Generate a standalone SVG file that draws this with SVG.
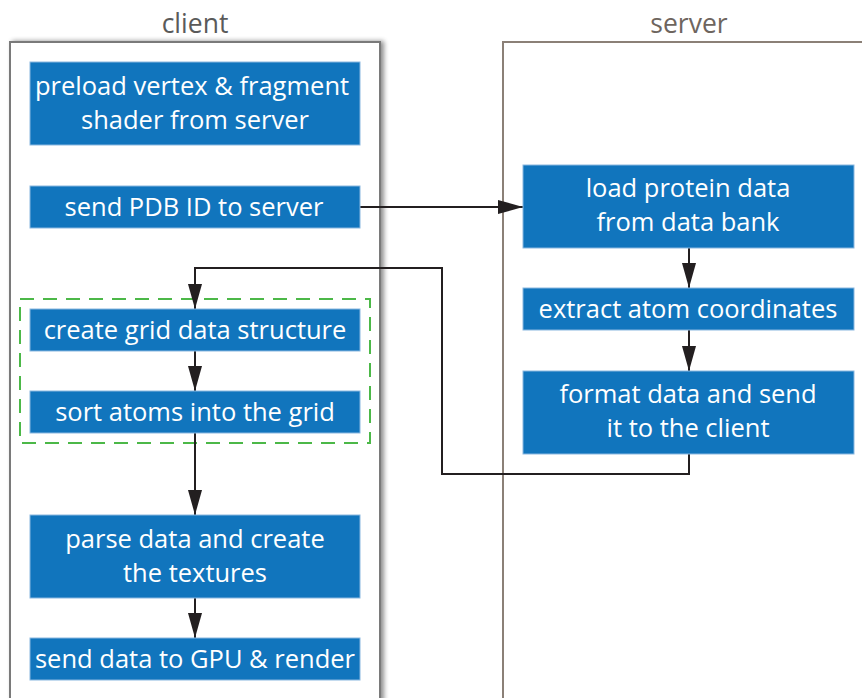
<svg xmlns="http://www.w3.org/2000/svg" width="862" height="698" viewBox="0 0 862 698">
  <defs>
    <marker id="arrow" markerUnits="userSpaceOnUse" markerWidth="26" markerHeight="14" refX="25" refY="7" orient="auto">
      <path d="M0,0 L25,7 L0,14 Z" fill="#231f20"/>
    </marker>
    <filter id="shadow" x="-10%" y="-5%" width="120%" height="110%">
      <feGaussianBlur in="SourceAlpha" stdDeviation="2.5"/>
      <feOffset dx="3" dy="0"/>
      <feComponentTransfer><feFuncA type="linear" slope="0.45"/></feComponentTransfer>
      <feMerge><feMergeNode/><feMergeNode in="SourceGraphic"/></feMerge>
    </filter>
  </defs>
  <style>
    .lane-title { font-family: "Open Sans", "Noto Sans", sans-serif; font-size: 26.5px; text-anchor: middle; }
    .box rect { fill: #1175bd; stroke: #8ab8e0; stroke-width: 1; }
    .box text { font-family: "Open Sans", "Noto Sans", sans-serif; font-size: 25.5px; fill: #ffffff; text-anchor: middle; }
    .edge { fill: none; stroke: #231f20; stroke-width: 2; }
  </style>
  <rect width="862" height="698" fill="#ffffff"/>

  <!-- swim lanes -->
  <g id="lane-client">
    <rect x="10" y="42" width="370" height="680" fill="#ffffff" stroke="#7a7a7a" stroke-width="2" filter="url(#shadow)"/>
    <text class="lane-title" x="195" y="33" fill="#5a5a5a">client</text>
  </g>
  <g id="lane-server">
    <rect x="503" y="42" width="400" height="680" fill="#ffffff" stroke="#8b8077" stroke-width="2"/>
    <text class="lane-title" x="689" y="33" fill="#6e655e">server</text>
  </g>

  <!-- grid stage grouping -->
  <rect id="grid-stage" x="20" y="299" width="350" height="144" fill="none" stroke="#4cb848" stroke-width="2" stroke-dasharray="14,9"/>

  <!-- connectors -->
  <g id="connectors">
    <path class="edge" d="M360,207 H523" marker-end="url(#arrow)"/>
    <path class="edge" d="M689,248 V288" marker-end="url(#arrow)"/>
    <path class="edge" d="M689,330 V371" marker-end="url(#arrow)"/>
    <path class="edge" d="M689,454 V474 H442 V268 H195 V309" marker-end="url(#arrow)"/>
    <path class="edge" d="M195,351 V391" marker-end="url(#arrow)"/>
    <path class="edge" d="M195,433 V515" marker-end="url(#arrow)"/>
    <path class="edge" d="M195,598 V638" marker-end="url(#arrow)"/>
  </g>

  <!-- client steps -->
  <g id="preload" class="box">
    <rect x="30" y="62" width="330" height="83"/>
    <text x="192" y="95">preload vertex &amp; fragment</text>
    <text x="195" y="129">shader from server</text>
  </g>
  <g id="send-id" class="box">
    <rect x="30" y="186" width="330" height="42"/>
    <text x="194" y="216">send PDB ID to server</text>
  </g>
  <g id="create-grid" class="box">
    <rect x="30" y="309" width="330" height="42"/>
    <text x="195" y="339">create grid data structure</text>
  </g>
  <g id="sort-atoms" class="box">
    <rect x="30" y="391" width="330" height="42"/>
    <text x="195" y="421">sort atoms into the grid</text>
  </g>
  <g id="parse" class="box">
    <rect x="30" y="515" width="330" height="83"/>
    <text x="195" y="548">parse data and create</text>
    <text x="195" y="582">the textures</text>
  </g>
  <g id="send-gpu" class="box">
    <rect x="30" y="638" width="330" height="42"/>
    <text x="195" y="668">send data to GPU &amp; render</text>
  </g>

  <!-- server steps -->
  <g id="load-protein" class="box">
    <rect x="523" y="165" width="331" height="83"/>
    <text x="688" y="197">load protein data</text>
    <text x="688" y="231">from data bank</text>
  </g>
  <g id="extract" class="box">
    <rect x="523" y="288" width="331" height="42"/>
    <text x="688" y="318">extract atom coordinates</text>
  </g>
  <g id="format" class="box">
    <rect x="523" y="371" width="331" height="83"/>
    <text x="688" y="403">format data and send</text>
    <text x="688" y="437">it to the client</text>
  </g>
</svg>
